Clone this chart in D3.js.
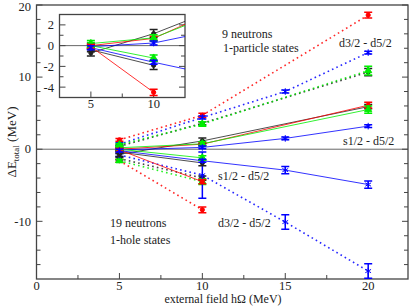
<!DOCTYPE html>
<html>
<head>
<meta charset="utf-8">
<script src="https://cdn.jsdelivr.net/npm/d3@7"></script>
<style>
  body { margin: 0; background: #fff; }
  svg text { font-family: "Liberation Serif", "Times New Roman", serif; fill: #222; }
</style>
</head>
<body>
<div id="chart"></div>
<script>
// external field values (MeV)
var fields = [5, 10, 15, 20]

// 9 neutrons, 1-particle states : s1/2 - d5/2 (solid)
var spBlack = [-0.7, 1.15, null, 5.9], spBlackErr = [0.3, 0.4, null, 0.3]
var spRed = [0.0, 0.7, null, 6.1], spRedErr = [0.2, 0.2, null, 0.4]
var spGreen = [0.2, 0.75, null, 5.5], spGreenErr = [0.3, 0.3, null, 0.5]
var spBlue = [-0.1, 0.25, 1.5, 3.2], spBlueErr = [0.2, 0.2, 0.2, 0.2]

// 9 neutrons : d3/2 - d5/2 (dotted)
var dpRed = [1.3, 4.7, null, 18.6], dpRedErr = [0.2, 0.3, null, 0.4]
var dpBlue = [0.7, 4.4, 8.0, 13.4], dpBlueErr = [0.2, 0.2, 0.2, 0.2]
var dpGreen = [0.6, 3.5, null, 10.9], dpGreenErr = [0.2, 0.3, null, 0.6]
var dpBlack = [0.4, 3.6, null, 10.7], dpBlackErr = [0.2, 0.2, null, 0.5]

// 19 neutrons, 1-hole states : s1/2 - d5/2 (solid)
var shBlack = [-0.4, -1.9], shBlackErr = [0.2, 0.4]
var shGreen = [0.0, -1.2], shGreenErr = [0.3, 0.3]
var shRed = [-0.1, -4.5], shRedErr = [0.2, 0.3]
var shBlue = [-0.2, -1.6, -2.9, -4.9], shBlueErr = [0.2, 0.2, 0.5, 0.5]

// 19 neutrons : d3/2 - d5/2 (dotted)
var dhRed = [-1.6, -8.4], dhRedErr = [0.2, 0.4]
var dhGreen = [-1.6, -4.5], dhGreenErr = [0.2, 0.4]
var dhBlack = [-1.3, -4.0], dhBlackErr = [0.2, 0.3]
var dhBlue = [-0.8, -3.6, -10.1, -16.9], dhBlueErr = [0.2, 3.2, 1.0, 1.0]

var colors = { black: "#222", red: "#f00", green: "#0e0", blue: "#00f" }

// build series table
function series(vals, errs, col, dotted) {
  var pts = []
  vals.forEach(function(v, i) {
    if (v != null) pts.push({ x: fields[i], y: v, e: errs[i] })
  })
  return { pts: pts, col: col, dotted: dotted }
}

var solid = [
  series(spBlack, spBlackErr, "black", false),
  series(spRed, spRedErr, "red", false),
  series(spGreen, spGreenErr, "green", false),
  series(spBlue, spBlueErr, "blue", false),
  series(shBlack, shBlackErr, "black", false),
  series(shGreen, shGreenErr, "green", false),
  series(shRed, shRedErr, "red", false),
  series(shBlue, shBlueErr, "blue", false)
]
var dotted = [
  series(dpRed, dpRedErr, "red", true),
  series(dpBlue, dpBlueErr, "blue", true),
  series(dpBlack, dpBlackErr, "black", true),
  series(dpGreen, dpGreenErr, "green", true),
  series(dhRed, dhRedErr, "red", true),
  series(dhBlack, dhBlackErr, "black", true),
  series(dhGreen, dhGreenErr, "green", true),
  series(dhBlue, dhBlueErr, "blue", true)
]

var width = 411, height = 306

var svg = d3.select("#chart").append("svg")
  .attr("width", width)
  .attr("height", height)
  .attr("font-family", "Liberation Serif, Times New Roman, serif")

var x = d3.scaleLinear().domain([0, 22.4]).range([36.5, 408])
var y = d3.scaleLinear().domain([-18, 20]).range([279, 5])

// inset scales
var xi = d3.scaleLinear().domain([2.5, 12.5]).range([59.5, 185])
var yi = d3.scaleLinear().domain([-5, 3]).range([97.5, 14.5])

var defs = svg.append("defs")
defs.append("clipPath").attr("id", "clipMain").append("rect")
  .attr("x", x(0)).attr("y", y(20)).attr("width", x(22.4) - x(0)).attr("height", y(-18) - y(20))
defs.append("clipPath").attr("id", "clipInset").append("rect")
  .attr("x", xi(2.5)).attr("y", yi(3)).attr("width", xi(12.5) - xi(2.5)).attr("height", yi(-5) - yi(3))

var axisCol = "#444"

function drawFrame(g, xs, ys, xMajor, xMinor, yMajor, yMinor, majLen, minLen) {
  var x0 = xs.range()[0], x1 = xs.range()[1], y0 = ys.range()[1], y1 = ys.range()[0]
  // zero line
  g.append("line").attr("x1", x0).attr("x2", x1).attr("y1", ys(0)).attr("y2", ys(0))
    .attr("stroke", "#666").attr("stroke-width", 1)
  // ticks
  yMajor.concat(yMinor).forEach(function(v, i) {
    var len = i < yMajor.length ? majLen : minLen
    g.append("line").attr("x1", x0).attr("x2", x0 + len).attr("y1", ys(v)).attr("y2", ys(v)).attr("stroke", axisCol)
    g.append("line").attr("x1", x1).attr("x2", x1 - len).attr("y1", ys(v)).attr("y2", ys(v)).attr("stroke", axisCol)
  })
  xMajor.concat(xMinor).forEach(function(v, i) {
    var len = i < xMajor.length ? majLen : minLen
    g.append("line").attr("x1", xs(v)).attr("x2", xs(v)).attr("y1", y1).attr("y2", y1 - len).attr("stroke", axisCol)
  })
  g.append("rect").attr("x", x0).attr("y", y0).attr("width", x1 - x0).attr("height", y1 - y0)
    .attr("fill", "none").attr("stroke", axisCol).attr("stroke-width", 1.3)
}

function drawSeries(g, list, xs, ys, clip) {
  var line = d3.line().x(function(d) { return xs(d.x) }).y(function(d) { return ys(d.y) })
  var layer = g.append("g").attr("clip-path", "url(#" + clip + ")")
  list.forEach(function(s) {
    var c = colors[s.col]
    layer.append("path").attr("d", line(s.pts))
      .attr("fill", "none").attr("stroke", c)
      .attr("stroke-width", s.dotted ? 1.6 : 1)
      .attr("stroke-dasharray", s.dotted ? "1.6,3.2" : null)
      .attr("opacity", s.dotted ? 0.85 : 0.8)
  })
  list.forEach(function(s) {
    var c = colors[s.col]
    s.pts.forEach(function(p) {
      if (xs(p.x) > xs.range()[1]) return
      var e = layer.append("g").attr("stroke", c).attr("stroke-width", 1.5)
      e.append("line").attr("x1", xs(p.x)).attr("x2", xs(p.x)).attr("y1", ys(p.y - p.e)).attr("y2", ys(p.y + p.e))
      e.append("line").attr("x1", xs(p.x) - 4).attr("x2", xs(p.x) + 4).attr("y1", ys(p.y - p.e)).attr("y2", ys(p.y - p.e))
      e.append("line").attr("x1", xs(p.x) - 4).attr("x2", xs(p.x) + 4).attr("y1", ys(p.y + p.e)).attr("y2", ys(p.y + p.e))
      var sym
      if (s.col === "blue") sym = d3.symbol(d3.symbolAsterisk, 30)
      else if (s.col === "green") sym = d3.symbol(d3.symbolTriangle, 22)
      else sym = d3.symbol(d3.symbolCircle, 14)
      layer.append("path").attr("d", sym())
        .attr("transform", "translate(" + xs(p.x) + "," + ys(p.y) + ")")
        .attr("fill", c).attr("stroke", c).attr("stroke-width", 1)
    })
  })
}

// main plot
var main = svg.append("g")
drawFrame(main, x, y, [0, 5, 10, 15, 20], [2.5, 7.5, 12.5, 17.5],
  [-10, 0, 10, 20], [-16, -14, -12, -8, -6, -4, -2, 2, 4, 6, 8, 12, 14, 16, 18], 6, 4)
drawSeries(main, dotted, x, y, "clipMain")
drawSeries(main, solid, x, y, "clipMain")

// main tick labels
main.selectAll(".xl").data([0, 5, 10, 15, 20]).enter().append("text")
  .attr("x", function(d) { return x(d) }).attr("y", 290)
  .attr("text-anchor", "middle").attr("font-size", 12.5).text(function(d) { return d })
main.selectAll(".yl").data([-10, 0, 10, 20]).enter().append("text")
  .attr("x", 31).attr("y", function(d) { return Math.max(y(d) + 4.2, 11) })
  .attr("text-anchor", "end").attr("font-size", 12.5).text(function(d) { return d })

// axis titles
main.append("text").attr("x", 223).attr("y", 303).attr("text-anchor", "middle").attr("font-size", 12)
  .text("external field hΩ  (MeV)")
var yt = main.append("text").attr("transform", "translate(16,142) rotate(-90)")
  .attr("text-anchor", "middle").attr("font-size", 13)
yt.append("tspan").text("ΔE")
yt.append("tspan").attr("font-size", 9).attr("dy", 3).text("total")
yt.append("tspan").attr("dy", -3).text(" (MeV)")

// annotations
var notes = [
  ["9 neutrons", 222, 38], ["1-particle states", 223, 52],
  ["d3/2 - d5/2", 339, 47], ["s1/2 - d5/2", 343, 145],
  ["s1/2 - d5/2", 218, 180], ["d3/2 - d5/2", 218, 227],
  ["19 neutrons", 110, 227], ["1-hole states", 110, 244]
]
notes.forEach(function(n) {
  main.append("text").attr("x", n[1]).attr("y", n[2]).attr("font-size", 12).text(n[0])
})

// inset
var inset = svg.append("g")
inset.append("rect").attr("x", xi(2.5)).attr("y", yi(3)).attr("width", xi(12.5) - xi(2.5))
  .attr("height", yi(-5) - yi(3)).attr("fill", "#fff")
drawFrame(inset, xi, yi, [5, 10], [7.5], [-4, -2, 0, 2], [-3, -1, 1], 6, 4)
drawSeries(inset, solid, xi, yi, "clipInset")
inset.selectAll(".xl").data([5, 10]).enter().append("text")
  .attr("x", function(d) { return xi(d) }).attr("y", 108)
  .attr("text-anchor", "middle").attr("font-size", 12.5).text(function(d) { return d })
inset.selectAll(".yl").data([-4, -2, 0, 2]).enter().append("text")
  .attr("x", 54).attr("y", function(d) { return yi(d) + 4.5 })
  .attr("text-anchor", "end").attr("font-size", 12.5).text(function(d) { return d })
</script>
</body>
</html>
